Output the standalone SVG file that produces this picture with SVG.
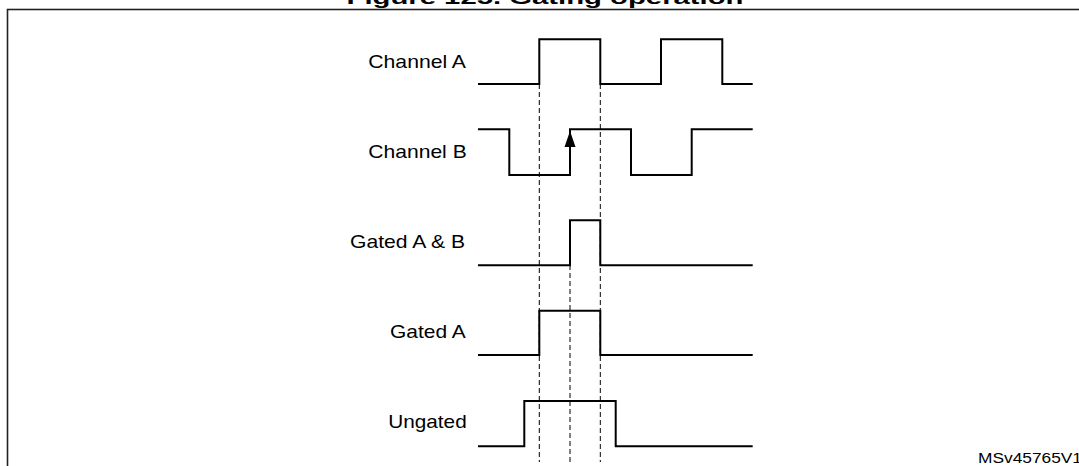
<svg xmlns="http://www.w3.org/2000/svg" width="1079" height="466" viewBox="0 0 1079 466">
<style>
.sig{fill:none;stroke:#000;stroke-width:2;stroke-linejoin:miter}
.dash{fill:none;stroke:#000;stroke-width:1;stroke-dasharray:5 3}
.lbl{font-family:"Liberation Sans",Arial,sans-serif;font-size:18.5px;fill:#000;text-anchor:end}
.ttl{font-family:"Liberation Sans",Arial,sans-serif;font-size:19px;font-weight:bold;fill:#000;text-anchor:middle}
.ref{font-family:"Liberation Sans",Arial,sans-serif;font-size:14px;fill:#000}
</style>
<rect width="1079" height="466" fill="#fff"/>
<text class="ttl" x="545" y="4" textLength="397" lengthAdjust="spacingAndGlyphs">Figure 125. Gating operation</text>
<rect x="7.5" y="9.5" width="1090" height="480" fill="none" stroke="#222" stroke-width="1.6"/>
<g id="connectors">
<line class="dash" x1="539.3" y1="84" x2="539.3" y2="462"/>
<line class="dash" x1="600.3" y1="84" x2="600.3" y2="462"/>
<line class="dash" x1="570" y1="265" x2="570" y2="462"/>
</g>
<g id="channelA">
<text class="lbl" x="466" y="67.7" textLength="97.7" lengthAdjust="spacingAndGlyphs">Channel A</text>
<polyline class="sig" points="478,84 539.3,84 539.3,39.3 600.3,39.3 600.3,84 661,84 661,39.3 722.3,39.3 722.3,84 752.7,84"/>
</g>
<g id="channelB">
<text class="lbl" x="466.7" y="157.7" textLength="98.4" lengthAdjust="spacingAndGlyphs">Channel B</text>
<polyline class="sig" points="478,129.3 509.3,129.3 509.3,175 570,175 570,129.3 631,129.3 631,175 691.7,175 691.7,129.3 752.7,129.3"/>
<polygon points="570,131 575.5,147 564.5,147" fill="#000"/>
</g>
<g id="gatedAB">
<text class="lbl" x="465" y="248.3" textLength="115" lengthAdjust="spacingAndGlyphs">Gated A &amp; B</text>
<polyline class="sig" points="478,265.3 570,265.3 570,220.3 600.3,220.3 600.3,265.3 752.7,265.3"/>
</g>
<g id="gatedA">
<text class="lbl" x="465.7" y="338.3" textLength="75.7" lengthAdjust="spacingAndGlyphs">Gated A</text>
<polyline class="sig" points="478,355 539.3,355 539.3,310.7 600.3,310.7 600.3,355 752.7,355"/>
</g>
<g id="ungated">
<text class="lbl" x="466.7" y="428.3" textLength="78.4" lengthAdjust="spacingAndGlyphs">Ungated</text>
<polyline class="sig" points="478,446.3 524.3,446.3 524.3,401 615.7,401 615.7,446.3 752.7,446.3"/>
</g>
<text class="ref" x="978" y="463" textLength="104" lengthAdjust="spacingAndGlyphs">MSv45765V1</text>
</svg>
